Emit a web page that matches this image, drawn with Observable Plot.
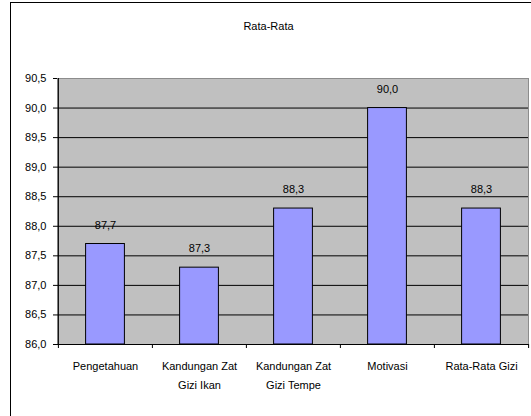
<!DOCTYPE html>
<html>
<head>
<meta charset="utf-8">
<script src="https://cdn.jsdelivr.net/npm/d3@7"></script>
<script src="https://cdn.jsdelivr.net/npm/@observablehq/plot@0.6"></script>
<style>
  html, body { margin: 0; padding: 0; overflow: hidden; background: #fff; }
  #wrap { position: relative; width: 531px; height: 416px; overflow: hidden; font-family: "Liberation Sans", Arial, sans-serif; }
  #border { position: absolute; left: 10px; top: 2px; width: 700px; height: 600px; border: 1px solid #000; box-sizing: border-box; }
  #title { position: absolute; left: 0; width: 537px; top: 19px; text-align: center; font-size: 11px; line-height: 14px; color: #000; }
  #chart { position: absolute; left: 0; top: 0; }
</style>
</head>
<body>
<div id="wrap">
  <div id="border"></div>
  <div id="chart"></div>
  <div id="title">Rata-Rata</div>
</div>
<script>
const categories = ["Pengetahuan", "Kandungan Zat Gizi Ikan", "Kandungan Zat Gizi Tempe", "Motivasi", "Rata-Rata Gizi"];
const values = [87.7, 87.3, 88.3, 90.0, 88.3];
const yTicks = [86.0, 86.5, 87.0, 87.5, 88.0, 88.5, 89.0, 89.5, 90.0, 90.5];
const gridTicks = [86.5, 87.0, 87.5, 88.0, 88.5, 89.0, 89.5, 90.0];
const yDomain = [86.0, 90.5];

const data = categories.map((c, i) => ({cat: c, value: values[i]}));
const fmt = v => v.toFixed(1).replace(".", ",");

const W = 531, H = 416, mL = 57, mR = 3, mT = 78, mB = 72;
const step = (W - mL - mR) / categories.length;
const barInset = (step - 39) / 2;

const chart = Plot.plot({
  width: W,
  height: H,
  marginLeft: mL,
  marginRight: mR,
  marginTop: mT,
  marginBottom: mB,
  style: {fontFamily: "'Liberation Sans', Arial, sans-serif", fontSize: "11px", color: "#000", background: "transparent"},
  x: {domain: categories, padding: 0, label: null},
  y: {domain: yDomain, label: null},
  marks: [
    Plot.frame({fill: "#C0C0C0", stroke: "#8c8c8c"}),
    Plot.gridY(gridTicks, {stroke: "#000", strokeOpacity: 1, strokeWidth: 1}),
    Plot.barY(data, {x: "cat", y1: yDomain[0], y2: "value", fill: "#9999FF", stroke: "#000", strokeWidth: 1, insetLeft: barInset, insetRight: barInset}),
    Plot.text(data, {x: "cat", y: "value", text: d => fmt(d.value), dy: -19, fill: "#000", fontSize: 11}),
    Plot.ruleY([yDomain[0]], {stroke: "#000", strokeWidth: 1}),
    Plot.ruleX([categories[0]], {x: d => d, dx: -step / 2, y1: yDomain[0], y2: yDomain[1], stroke: "#000", strokeWidth: 1}),
    Plot.ruleX(categories, {x: d => d, dx: -step / 2, y1: yDomain[0], y2: yDomain[0], insetBottom: -4, stroke: "#000"}),
    Plot.ruleX([categories[categories.length - 1]], {x: d => d, dx: step / 2, y1: yDomain[0], y2: yDomain[0], insetBottom: -4, stroke: "#000"}),
    Plot.axisY({ticks: yTicks, tickFormat: fmt, tickSize: 4, tickPadding: 7, fontSize: 11, stroke: "#000"}),
    Plot.axisX({tickSize: 0, tickPadding: 12, fontSize: 11, lineHeight: 1.75, tickFormat: d => d.replace("Zat ", "Zat\n")})
  ]
});
document.getElementById("chart").appendChild(chart);
</script>
</body>
</html>
